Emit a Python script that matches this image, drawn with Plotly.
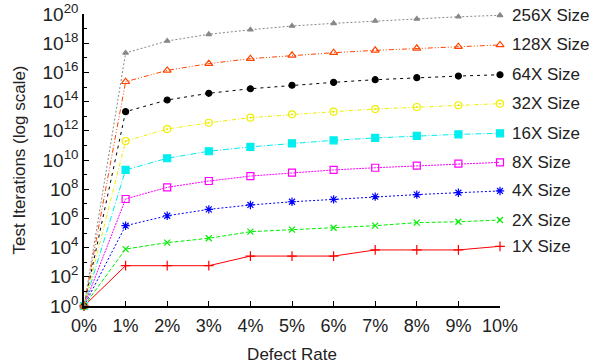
import plotly.graph_objects as go

defect_rate = [0, 1, 2, 3, 4, 5, 6, 7, 8, 9, 10]
x_tick_labels = ["0%", "1%", "2%", "3%", "4%", "5%", "6%", "7%", "8%", "9%", "10%"]

series_names = ["1X Size", "2X Size", "4X Size", "8X Size", "16X Size",
                "32X Size", "64X Size", "128X Size", "256X Size"]

# log10 of test iterations
log_1x = [0, 2.76, 2.76, 2.76, 3.42, 3.42, 3.42, 3.84, 3.84, 3.84, 4.09]
log_2x = [0, 3.90, 4.34, 4.64, 5.09, 5.23, 5.36, 5.50, 5.71, 5.77, 5.89]
log_4x = [0, 5.50, 6.18, 6.62, 6.92, 7.14, 7.30, 7.49, 7.63, 7.76, 7.88]
log_8x = [0, 7.33, 8.13, 8.56, 8.90, 9.13, 9.32, 9.47, 9.61, 9.75, 9.84]
log_16x = [0, 9.32, 10.12, 10.60, 10.90, 11.14, 11.35, 11.51, 11.65, 11.76, 11.83]
log_32x = [0, 11.30, 12.12, 12.55, 12.90, 13.13, 13.31, 13.49, 13.63, 13.75, 13.86]
log_64x = [0, 13.31, 14.11, 14.57, 14.88, 15.12, 15.32, 15.50, 15.64, 15.75, 15.84]
log_128x = [0, 15.36, 16.14, 16.60, 16.94, 17.17, 17.35, 17.51, 17.65, 17.76, 17.88]
log_256x = [0, 17.33, 18.15, 18.61, 18.92, 19.18, 19.36, 19.52, 19.66, 19.81, 19.91]

all_logs = [log_1x, log_2x, log_4x, log_8x, log_16x, log_32x, log_64x, log_128x, log_256x]

colors = ["#ff0000", "#00ee00", "#0000ff", "#ff00ff", "#00eeee",
          "#eeee00", "#000000", "#ff4500", "#888888"]
symbols = ["cross-thin-open", "x-thin-open", "asterisk-open", "square-open", "square",
           "circle-open-dot", "circle", "triangle-up-open", "triangle-up"]
sizes = [7, 6, 7, 7, 7, 7, 6, 7, 5]
dashes = ["solid", "4px,2px", "2px,2px", "2px,1px", "6px,2px,1px,2px",
          "4px,2px,1px,2px", "3px,4px", "5px,2px,1px,2px,1px,2px", "2px,2px"]

font_family = "Liberation Sans, Arial, sans-serif"

fig = go.Figure()
for name, logs, c, s, sz, d in zip(series_names, all_logs, colors, symbols, sizes, dashes):
    yvals = [10.0 ** v for v in logs]
    fig.add_trace(go.Scatter(
        x=defect_rate, y=yvals, name=name, mode="lines+markers",
        line=dict(color=c, width=1, dash=d),
        marker=dict(symbol=s, size=sz, color=c, line=dict(color=c, width=1.2)),
        cliponaxis=False, showlegend=False,
    ))
    fig.add_annotation(x=defect_rate[-1], y=logs[-1], xref="x", yref="y",
                       text=name, showarrow=False, xanchor="left", yanchor="middle",
                       xshift=10, font=dict(size=17, color="#222222", family=font_family))

major_exp = list(range(0, 21, 2))
minor_exp = list(range(1, 21, 2))

fig.update_layout(
    width=601, height=364,
    margin=dict(l=84, r=101, t=14, b=58),
    paper_bgcolor="white", plot_bgcolor="white",
    font=dict(family=font_family, size=17, color="#222222"),
    xaxis=dict(
        range=[0, 10], tickmode="array", tickvals=defect_rate, ticktext=x_tick_labels,
        ticks="inside", ticklen=5, tickcolor="#000", showline=True, linecolor="#000",
        linewidth=1.5, showgrid=False, zeroline=False, automargin=False,
        ticklabelstandoff=3, ticklabeloverflow="allow",
        title=dict(text="Defect Rate", standoff=14, font=dict(size=17)),
        tickfont=dict(size=18),
    ),
    yaxis=dict(
        type="log", range=[0, 20], tickmode="array",
        tickvals=[10.0 ** k for k in major_exp],
        ticktext=["10<sup>%d</sup>" % k for k in major_exp],
        ticks="inside", ticklen=5, tickcolor="#000", showline=True, linecolor="#000",
        linewidth=1.5, showgrid=False, zeroline=False, automargin=False,
        ticklabeloverflow="allow",
        minor=dict(tickmode="array", tickvals=[10.0 ** k for k in minor_exp],
                   ticks="inside", ticklen=3, tickcolor="#000", showgrid=False),
        title=dict(text="Test Iterations (log scale)", standoff=13, font=dict(size=17)),
        tickfont=dict(size=19),
    ),
)

fig.write_html("out.html", config={"displayModeBar": False},
               post_script="document.body.style.margin='0';")
